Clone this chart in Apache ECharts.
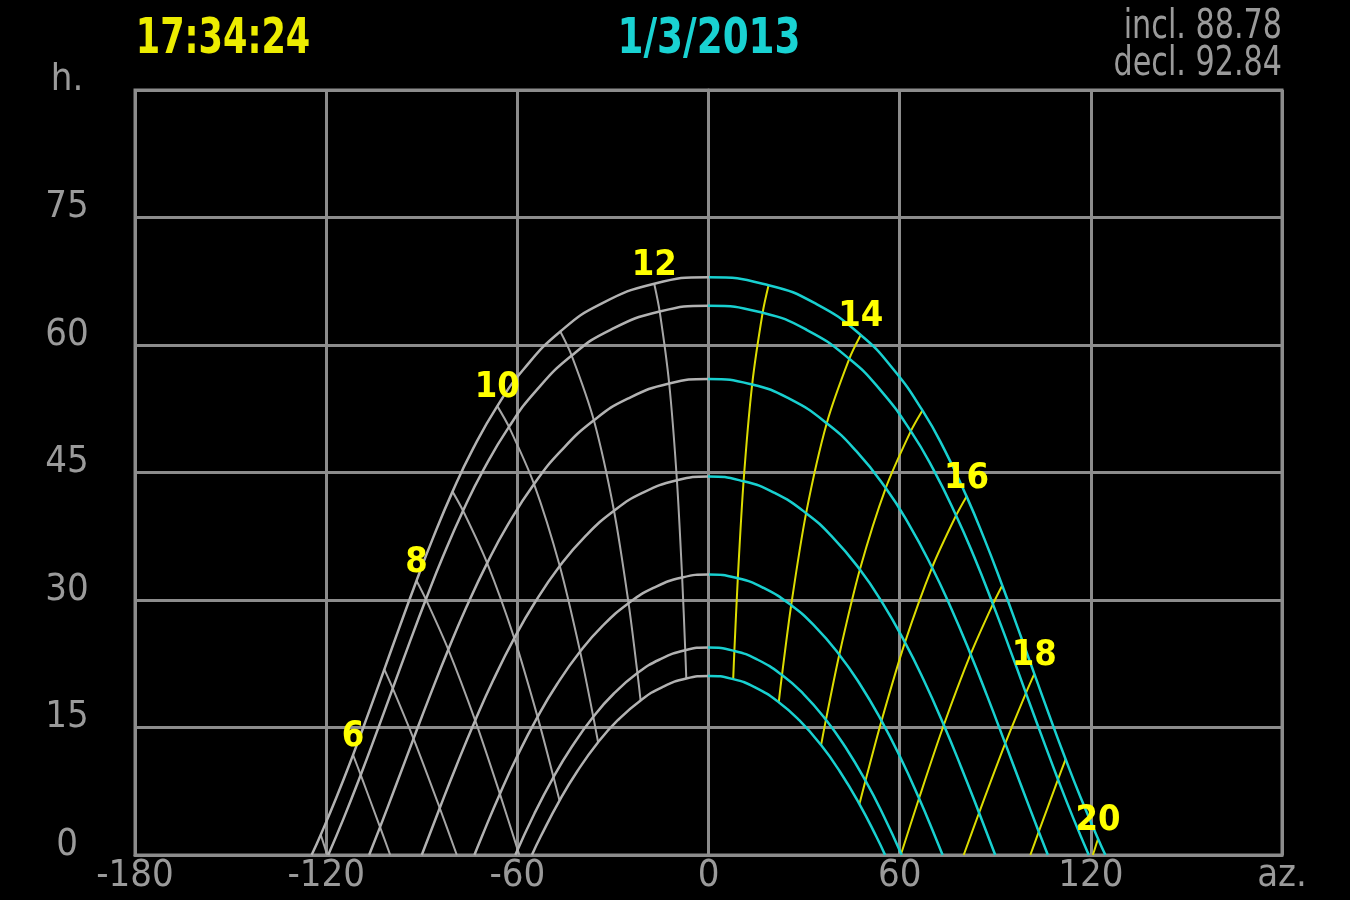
<!DOCTYPE html>
<html><head><meta charset="utf-8">
<script src="https://cdn.jsdelivr.net/npm/echarts@6/dist/echarts.min.js"></script>
<style>html,body{margin:0;padding:0;background:#000}#c{width:1350px;height:900px}</style>
</head><body><div id="c"></div>
<script>
// ---- header texts ----
const clockText = '17:34:24';
const dateText = '1/3/2013';
const inclText = 'incl. 88.78';
const declText = 'decl. 92.84';
const yAxisName = 'h.';
const xAxisName = 'az.';
const xRange = [-180, 180, 60];
const yRange = [0, 90, 15];

// ---- sun paths [azimuth, altitude] per declination ----
const pathJun = [[-124.57,0],[-121.70,2.39],[-116.83,6.73],[-111.56,11.78],[-106.91,16.48],[-101.75,21.84],[-97.04,26.75],[-91.64,32.27],[-86.52,37.25],[-80.34,42.75],[-74.17,47.60],[-66.29,52.81],[-57.89,57.21],[-46.51,61.59],[-33.91,64.81],[-17.03,67.21],[0,67.98],[18.85,67.03],[33.91,64.81],[47.78,61.18],[57.89,57.21],[67.15,52.30],[74.17,47.60],[81.00,42.19],[86.52,37.25],[92.20,31.71],[97.04,26.75],[102.27,21.30],[106.91,16.48],[112.09,11.26],[116.83,6.73],[122.26,1.92],[124.57,0]];
const pathMayJul = [[-119.36,0],[-114.55,4.28],[-109.16,9.42],[-104.39,14.19],[-99.10,19.61],[-94.26,24.55],[-88.69,30.08],[-83.41,35.05],[-77.04,40.50],[-70.69,45.28],[-62.63,50.37],[-54.16,54.61],[-42.94,58.76],[-30.91,61.76],[-15.32,63.94],[0,64.62],[16.99,63.79],[30.91,61.76],[44.18,58.38],[54.16,54.61],[63.50,49.87],[70.69,45.28],[77.71,39.95],[83.41,35.05],[89.27,29.52],[94.26,24.55],[99.63,19.05],[104.39,14.19],[109.70,8.89],[114.55,4.28],[119.36,0]];
const pathAprAug = [[-106.52,0],[-103.09,3.28],[-98.12,8.17],[-92.58,13.69],[-87.51,18.66],[-81.66,24.17],[-76.12,29.05],[-69.47,34.34],[-62.91,38.90],[-54.75,43.64],[-46.47,47.48],[-35.98,51.14],[-25.35,53.68],[-12.34,55.47],[0,56.0],[13.70,55.35],[25.35,53.68],[37.11,50.80],[46.47,47.48],[55.63,43.17],[62.91,38.90],[70.17,33.82],[76.12,29.05],[82.27,23.62],[87.51,18.66],[93.14,13.13],[98.12,8.17],[103.66,2.74],[106.52,0]];
const pathEquinox = [[-90,0],[-84.35,5.53],[-79.18,10.45],[-73.23,15.83],[-67.62,20.52],[-60.96,25.51],[-54.50,29.71],[-46.68,33.99],[-38.99,37.38],[-29.66,40.50],[-20.59,42.62],[-9.91,44.08],[0,44.54],[11.01,43.97],[20.59,42.62],[30.64,40.22],[38.99,37.38],[47.51,33.58],[54.50,29.71],[61.66,25.01],[67.62,20.52],[73.85,15.29],[79.18,10.45],[84.92,4.97],[90,0]];
const pathFebOct = [[-73.48,0],[-71.28,2.04],[-65.48,7.19],[-60.05,11.61],[-53.65,16.25],[-47.55,20.09],[-40.29,23.93],[-33.33,26.92],[-25.09,29.62],[-17.29,31.42],[-8.27,32.65],[0,33.0],[9.20,32.56],[17.29,31.42],[25.95,29.38],[33.33,26.92],[41.05,23.57],[47.55,20.09],[54.31,15.79],[60.05,11.61],[66.08,6.67],[71.28,2.04],[73.48,0]];
const pathJanNov = [[-60.64,0],[-54.70,4.82],[-48.64,9.17],[-42.90,12.73],[-36.16,16.26],[-29.77,18.97],[-22.30,21.40],[-15.31,23.00],[-7.30,24.09],[0,24.41],[8.12,24.01],[15.31,23.00],[23.07,21.18],[29.77,18.97],[36.86,15.92],[42.90,12.73],[49.27,8.74],[54.70,4.82],[60.64,0]];
const pathDec = [[-55.43,0],[-52.67,2.17],[-46.76,6.40],[-41.18,9.85],[-34.65,13.26],[-28.48,15.86],[-21.31,18.19],[-14.61,19.73],[-6.97,20.77],[0,21.07],[7.75,20.69],[14.61,19.73],[22.05,17.98],[28.48,15.86],[35.33,12.93],[41.18,9.85],[47.37,5.99],[52.67,2.17],[55.43,0]];

// ---- hour lines (clock time), from June path downward ----
const h05 = [[-121.70,2.39],[-119.65,0]];
const h06 = [[-111.56,11.78],[-109.16,9.42],[-103.09,3.28],[-99.90,0]];
const h07 = [[-101.75,21.84],[-99.10,19.61],[-92.58,13.69],[-84.35,5.53],[-78.99,0]];
const h08 = [[-91.64,32.27],[-88.69,30.08],[-81.66,24.17],[-73.23,15.83],[-65.48,7.19],[-59.90,0.63],[-59.36,0]];
const h09 = [[-80.34,42.75],[-77.04,40.50],[-69.47,34.34],[-60.96,25.51],[-53.65,16.25],[-48.64,9.17],[-46.76,6.40]];
const h10 = [[-66.29,52.81],[-62.63,50.37],[-54.75,43.64],[-46.68,33.99],[-40.29,23.93],[-36.16,16.26],[-34.65,13.26]];
const h11 = [[-46.51,61.59],[-42.94,58.76],[-35.98,51.14],[-29.66,40.50],[-25.09,29.62],[-22.30,21.40],[-21.31,18.19]];
const h12 = [[-17.03,67.21],[-15.32,63.94],[-12.34,55.47],[-9.91,44.08],[-8.27,32.65],[-7.30,24.09],[-6.97,20.77]];
const h13 = [[18.85,67.03],[16.99,63.79],[13.70,55.35],[11.01,43.97],[9.20,32.56],[8.12,24.01],[7.75,20.69]];
const h14 = [[47.78,61.18],[44.18,58.38],[37.11,50.80],[30.64,40.22],[25.95,29.38],[23.07,21.18],[22.05,17.98]];
const h15 = [[67.15,52.30],[63.50,49.87],[55.63,43.17],[47.51,33.58],[41.05,23.57],[36.86,15.92],[35.33,12.93]];
const h16 = [[81.00,42.19],[77.71,39.95],[70.17,33.82],[61.66,25.01],[54.31,15.79],[49.27,8.74],[47.37,5.99]];
const h17 = [[92.20,31.71],[89.27,29.52],[82.27,23.62],[73.85,15.29],[66.08,6.67],[60.47,0.15],[60.35,0]];
const h18 = [[102.27,21.30],[99.63,19.05],[93.14,13.13],[84.92,4.97],[80.10,0]];
const h19 = [[112.09,11.26],[109.70,8.89],[103.66,2.74],[101.01,0]];
const h20 = [[122.26,1.92],[120.64,0]];
const hours = [5,6,7,8,9,10,11,12,13,14,15,16,17,18,19,20];
const labelledHours = [6,8,10,12,14,16,18,20];

const paths = [pathJun, pathMayJul, pathAprAug, pathEquinox, pathFebOct, pathJanNov, pathDec];
const hourLines = [h05,h06,h07,h08,h09,h10,h11,h12,h13,h14,h15,h16,h17,h18,h19,h20];

const FONT = "'DejaVu Sans Condensed','Liberation Sans Narrow',sans-serif";
const GRAY = '#9a9a9a';
const MORNING = '#b2b2b2';
const AFTERNOON = '#18d0d0';

const series = [];
// each path is symmetric about az 0, so the middle of its bounding box is noon
paths.forEach(p => series.push({
  type: 'line', data: p, smooth: true, symbol: 'none', silent: true, z: 3,
  lineStyle: { width: 2.5, color: new echarts.graphic.LinearGradient(0, 0, 1, 0, [
    { offset: 0, color: MORNING }, { offset: 0.5, color: MORNING },
    { offset: 0.5, color: AFTERNOON }, { offset: 1, color: AFTERNOON }]) }
}));
hourLines.forEach((d, i) => series.push({
  type: 'line', data: d, smooth: 0.3, symbol: 'none', silent: true, z: 2,
  lineStyle: { width: 2, color: hours[i] <= 12 ? '#a6a6a6' : '#dcdc00' }
}));
const labelPts = labelledHours.map(h => {
  const p = hourLines[hours.indexOf(h)][0];
  return [p[0], p[1], h];
});
series.push({
  type: 'scatter', data: labelPts, symbolSize: 0, silent: true, z: 5,
  itemStyle: { opacity: 1 },
  label: { show: true, position: 'top', distance: 0, formatter: p => String(p.value[2]),
    color: '#ffff00', opacity: 1, textBorderWidth: 0, fontSize: 36, fontWeight: 'bold', fontFamily: FONT }
});

const chart = echarts.init(document.getElementById('c'), null, { renderer: 'canvas' });
chart.setOption({
  backgroundColor: '#000',
  animation: false,
  grid: { left: 135, right: 68, top: 90, bottom: 45, show: true, borderColor: '#8c8c8c', borderWidth: 3 },
  xAxis: { type: 'value', min: xRange[0], max: xRange[1], interval: xRange[2],
    axisLine: { show: true, lineStyle: { color: '#8c8c8c', width: 3 } }, axisTick: { show: false },
    splitLine: { show: true, lineStyle: { color: '#8c8c8c', width: 3 } },
    axisLabel: { color: GRAY, fontSize: 38, fontFamily: FONT, margin: 2,
      formatter: v => v === xRange[1] ? xAxisName : String(v) } },
  yAxis: { type: 'value', min: yRange[0], max: yRange[1], interval: yRange[2],
    axisLine: { show: true, lineStyle: { color: '#8c8c8c', width: 3 } }, axisTick: { show: false },
    splitLine: { show: true, lineStyle: { color: '#8c8c8c', width: 3 } },
    axisLabel: { color: GRAY, fontSize: 38, fontFamily: FONT, margin: 68, align: 'center',
      verticalAlign: 'bottom', lineHeight: 20,
      formatter: v => v === yRange[1] ? yAxisName : String(v) } },
  graphic: [
    { type: 'text', x: 223, y: 40, scaleX: 0.78, silent: true, style: { text: clockText, fill: '#ecec00', font: 'bold 50px ' + FONT, textAlign: 'center', textVerticalAlign: 'middle' } },
    { type: 'text', x: 709, y: 40, scaleX: 0.83, silent: true, style: { text: dateText, fill: '#19d2d2', font: 'bold 50px ' + FONT, textAlign: 'center', textVerticalAlign: 'middle' } },
    { type: 'text', x: 1282, y: 28, scaleX: 0.84, silent: true, style: { text: inclText, fill: GRAY, font: '40px ' + FONT, textAlign: 'right', textVerticalAlign: 'middle' } },
    { type: 'text', x: 1282, y: 65, scaleX: 0.84, silent: true, style: { text: declText, fill: GRAY, font: '40px ' + FONT, textAlign: 'right', textVerticalAlign: 'middle' } }
  ],
  series: series
});
</script></body></html>
